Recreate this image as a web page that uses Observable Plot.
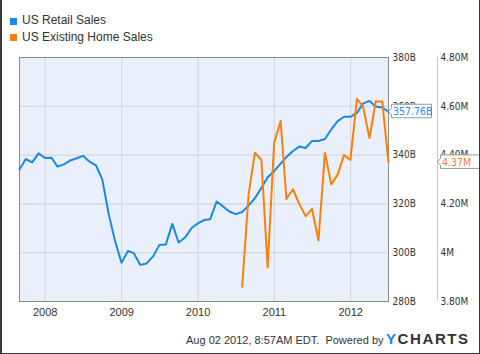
<!DOCTYPE html>
<html>
<head>
<meta charset="utf-8">
<script src="https://cdn.jsdelivr.net/npm/d3@7"></script>
<script src="https://cdn.jsdelivr.net/npm/@observablehq/plot@0.6"></script>
<style>
  html, body { margin: 0; padding: 0; background: #fff; }
  #wrap { position: relative; width: 480px; height: 354px; overflow: hidden; background: #fff;
          font-family: "Liberation Sans", Arial, sans-serif; color: #333; }
  #border { position: absolute; left: 0; top: 0; width: 480px; height: 354px; box-sizing: border-box;
            border-left: 2px solid #3a3a3a; border-right: 1px solid #3a3a3a; border-bottom: 1px solid #3a3a3a; pointer-events: none; }
  .leg { position: absolute; left: 22px; font-size: 12px; line-height: 14px; white-space: nowrap; color: #333; }
  .sw { position: absolute; left: 10px; width: 7px; height: 7px; }
  #chart { position: absolute; left: 0; top: 47px; }
  #foot { position: absolute; left: 186px; top: 334px; font-size: 11px; line-height: 13px; white-space: nowrap; color: #333; }
  #logo { position: absolute; left: 386px; top: 330px; font-size: 15px; line-height: 17px; font-weight: bold;
          letter-spacing: 1.6px; white-space: nowrap; color: #333; }
</style>
</head>
<body>
<div id="wrap">
  <div class="sw" style="top:17.5px;background:#1b87e6"></div>
  <div class="leg" style="top:13px">US Retail Sales</div>
  <div class="sw" style="top:34px;background:#fb7f0c"></div>
  <div class="leg" style="top:29.5px">US Existing Home Sales</div>
  <div id="chart"></div>
  <div id="foot">Aug 02 2012, 8:57AM EDT.&nbsp; Powered by</div>
  <div id="logo"><span style="color:#1b87e6">Y</span>CHARTS</div>
  <div id="border"></div>
</div>
<script>
// ---- data ----
const retailMonths = [
  "2007-08","2007-09","2007-10","2007-11","2007-12",
  "2008-01","2008-02","2008-03","2008-04","2008-05","2008-06","2008-07","2008-08","2008-09","2008-10","2008-11","2008-12",
  "2009-01","2009-02","2009-03","2009-04","2009-05","2009-06","2009-07","2009-08","2009-09","2009-10","2009-11","2009-12",
  "2010-01","2010-02","2010-03","2010-04","2010-05","2010-06","2010-07","2010-08","2010-09","2010-10","2010-11","2010-12",
  "2011-01","2011-02","2011-03","2011-04","2011-05","2011-06","2011-07","2011-08","2011-09","2011-10","2011-11","2011-12",
  "2012-01","2012-02","2012-03","2012-04","2012-05","2012-06"
];
// US Retail Sales, billions USD
const retailSales = [
  334.1, 338.4, 337.0, 340.7, 338.8,
  338.9, 335.3, 336.2, 337.8, 338.7, 339.7, 337.3, 335.8, 330.0, 315.7, 304.8, 295.9,
  300.7, 299.8, 295.0, 295.6, 298.5, 303.2, 303.4, 311.8, 304.2, 306.2, 310.0, 312.0,
  313.4, 313.7, 321.0, 319.0, 316.9, 315.8, 316.7, 319.4, 322.3, 326.5, 330.9, 333.4,
  336.5, 339.2, 341.7, 343.5, 342.9, 345.8, 345.8, 346.6, 350.5, 353.9, 355.7, 355.7,
  357.3, 361.1, 362.2, 359.9, 359.5, 357.76
];
const homeMonths = [
  "2010-07","2010-08","2010-09","2010-10","2010-11","2010-12",
  "2011-01","2011-02","2011-03","2011-04","2011-05","2011-06","2011-07","2011-08","2011-09","2011-10","2011-11","2011-12",
  "2012-01","2012-02","2012-03","2012-04","2012-05","2012-06"
];
// US Existing Home Sales, millions (annual rate)
const homeSales = [
  3.86, 4.24, 4.41, 4.38, 3.94, 4.45,
  4.54, 4.22, 4.26, 4.20, 4.15, 4.18, 4.05, 4.41, 4.28, 4.32, 4.40, 4.38,
  4.63, 4.60, 4.47, 4.62, 4.62, 4.37
];
const retailTicks = [280, 300, 320, 340, 360, 380];
const retailTickLabels = ["280B", "300B", "320B", "340B", "360B", "380B"];
const homeTicks = [3.8, 4.0, 4.2, 4.4, 4.6, 4.8];
const homeTickLabels = ["3.80M", "4M", "4.20M", "4.40M", "4.60M", "4.80M"];
const yearTicks = ["2008", "2009", "2010", "2011", "2012"];

// ---- helpers ----
const monthEnd = s => d3.utcDay.offset(d3.utcMonth.offset(new Date(s + "-01T00:00:00Z"), 1), -1);
// map right-hand (home sales) axis onto the retail scale
const toLeft = d3.scaleLinear()
  .domain([homeTicks[0], homeTicks[homeTicks.length - 1]])
  .range([retailTicks[0], retailTicks[retailTicks.length - 1]]);

const retail = retailMonths.map((m, i) => ({date: monthEnd(m), value: retailSales[i]}));
const home = homeMonths.map((m, i) => ({date: monthEnd(m), value: homeSales[i], scaled: toLeft(homeSales[i])}));
const yearDates = yearTicks.map(y => new Date(y + "-01-01T00:00:00Z"));
const xDomain = [retail[0].date, retail[retail.length - 1].date];

const retailLabel = new Map(retailTicks.map((t, i) => [t, retailTickLabels[i]]));
const homeTickPos = homeTicks.map(t => toLeft(t));
const homeLabel = new Map(homeTickPos.map((t, i) => [t, homeTickLabels[i]]));

const BLUE = "#1b87e6", ORANGE = "#fb7f0c";
const axisFont = "'DejaVu Sans Condensed', 'DejaVu Sans', sans-serif";

const chart = Plot.plot({
  width: 480, height: 275,
  marginLeft: 19, marginRight: 92, marginTop: 10, marginBottom: 21,
  style: {background: "transparent", color: "#333", fontFamily: axisFont, fontSize: "10px", overflow: "visible"},
  x: {type: "utc", domain: xDomain},
  y: {domain: [retailTicks[0], retailTicks[retailTicks.length - 1]]},
  marks: [
    Plot.frame({fill: "#e9f0fb", stroke: null}),
    Plot.gridX(yearDates, {stroke: "#d2d2d2", strokeOpacity: 1}),
    Plot.gridY(retailTicks, {stroke: "#d2d2d2", strokeOpacity: 1}),
    Plot.frame({stroke: "#8a8a8a"}),
    Plot.lineY(retail, {x: "date", y: "value", stroke: BLUE, strokeWidth: 2}),
    Plot.lineY(home, {x: "date", y: "scaled", stroke: ORANGE, strokeWidth: 2}),
    Plot.axisX(yearDates, {tickSize: 0, tickPadding: 7, tickFormat: d3.utcFormat("%Y"),
      fontFamily: "'Liberation Sans', Arial, sans-serif", fontSize: 11, fill: "#333"}),
    Plot.axisY(retailTicks, {anchor: "right", tickSize: 0, tickPadding: 4,
      tickFormat: d => retailLabel.get(d), fill: "#333"}),
    Plot.ruleX([xDomain[1]], {dx: 49, stroke: "#c8c8c8"}),
    Plot.axisY(homeTickPos, {anchor: "right", tickSize: 0, tickPadding: 4, dx: 48,
      tickFormat: d => homeLabel.get(d), fill: "#333"})
  ]
});

// value callouts at last points
const sx = chart.scale("x"), sy = chart.scale("y");
function callout(px, py, text, color) {
  const x0 = px + 3.5, top = py - 7, bot = py + 6.5, right = x0 + 40;
  const g = d3.select(chart).append("g");
  g.append("path")
    .attr("d", `M${px + 0.5},${py} L${x0},${py - 3.5} L${x0},${top} L${right},${top} L${right},${bot} L${x0},${bot} L${x0},${py + 3.5} Z`)
    .attr("fill", "#fff").attr("stroke", "#999").attr("stroke-width", 1);
  g.append("text").attr("x", x0 + 1.5).attr("y", py).attr("dy", "0.36em")
    .attr("text-anchor", "start")
    .attr("fill", color).attr("font-family", axisFont).attr("font-size", 10.5).text(text);
}
const lastR = retail[retail.length - 1], lastH = home[home.length - 1];
callout(sx.apply(lastR.date), sy.apply(lastR.value), lastR.value.toFixed(2) + "B", "#2a8ee8");
callout(sx.apply(lastH.date) + 49, sy.apply(lastH.scaled), lastH.value.toFixed(2) + "M", "#f5821f");

document.getElementById("chart").appendChild(chart);
</script>
</body>
</html>
